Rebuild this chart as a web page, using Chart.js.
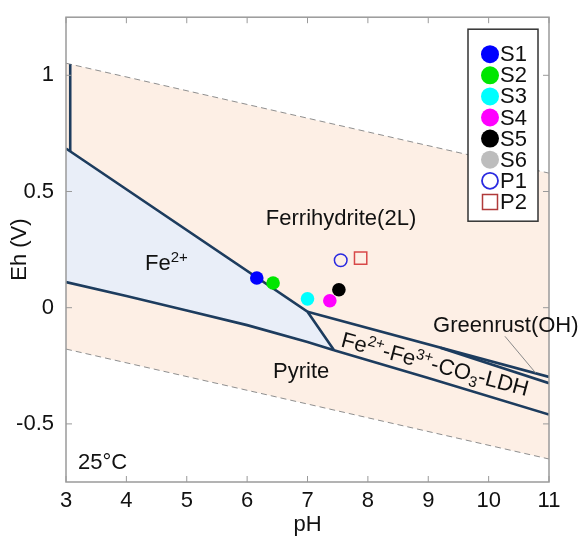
<!DOCTYPE html>
<html>
<head>
<meta charset="utf-8">
<script src="https://cdn.jsdelivr.net/npm/chart.js@4.4.0/dist/chart.umd.min.js"></script>
<style>
    html, body { margin: 0; padding: 0; background: #fff; }
    #wrap { width: 579px; height: 540px; }
</style>
</head>
<body>
<div id="wrap"><canvas id="ehphChart"></canvas></div>
<script>
// axis ticks
var xTicks = [3, 4, 5, 6, 7, 8, 9, 10, 11];
var yTicks = [-0.5, 0, 0.5, 1];

// water stability limits (dashed)
var waterPH = [3, 11];
var waterUpperEh = [1.052, 0.579];
var waterLowerEh = [-0.178, -0.651];

// phase boundaries
var verticalPH = [3.07, 3.07];
var verticalEh = [1.048, 0.673];
var fe2UpperPH = [3, 7.0, 7.44];          // Fe2+ / Ferrihydrite, then Fe2+ / LDH
var fe2UpperEh = [0.685, -0.017, -0.183];
var fe2PyritePH = [3, 4, 5, 6, 7, 7.44];
var fe2PyriteEh = [0.11, 0.05, -0.012, -0.075, -0.148, -0.183];
var ldhFerriPH = [7.0, 11];
var ldhFerriEh = [-0.017, -0.298];
var greenrustPH = [9.2, 11];
var greenrustEh = [-0.172, -0.325];
var ldhPyritePH = [7.44, 9, 11];
var ldhPyriteEh = [-0.183, -0.302, -0.46];
var pointerPH = [10.27, 10.78];
var pointerEh = [-0.123, -0.281];

// samples
var sampleNames = ["S1", "S2", "S3", "S4", "S5", "S6", "P1", "P2"];
var samplePH = [6.16, 6.43, 7.0, 7.37, 7.52, null, 7.55, 7.88];
var sampleEh = [0.128, 0.106, 0.038, 0.030, 0.077, null, 0.204, 0.213];
var sampleColors = ["#0000ff", "#00e600", "#00ffff", "#ff00ff", "#000000", "#bdbdbd", "#2a2ae0", "#d84848"];

var NAVY = "#1d3c5e";
var FONT = "'Liberation Sans', Arial, sans-serif";

function pts(xs, ys) {
    var out = [];
    for (var i = 0; i < xs.length; i++) {
        if (xs[i] !== null) out.push({ x: xs[i], y: ys[i] });
    }
    return out;
}

function boundary(xs, ys, extra) {
    var ds = {
        data: pts(xs, ys),
        showLine: true,
        borderColor: NAVY,
        borderWidth: 2.6,
        pointRadius: 0,
        fill: false,
        tension: 0
    };
    for (var k in extra) ds[k] = extra[k];
    return ds;
}

var datasets = [];

// markers first so they sit on top
for (var i = 0; i < sampleNames.length; i++) {
    var open = sampleNames[i] === "P1" || sampleNames[i] === "P2";
    datasets.push({
        label: sampleNames[i],
        data: pts([samplePH[i]], [sampleEh[i]]),
        pointStyle: sampleNames[i] === "P2" ? "rect" : "circle",
        pointRadius: sampleNames[i] === "P2" ? 8.7 : (open ? 6.3 : 6.8),
        pointBackgroundColor: open ? "rgba(0,0,0,0)" : sampleColors[i],
        pointBorderColor: sampleColors[i],
        pointBorderWidth: open ? 1.5 : 0,
        showLine: false
    });
}

datasets.push(boundary(pointerPH, pointerEh, { borderColor: "#8a8a8a", borderWidth: 1 }));
datasets.push(boundary(verticalPH, verticalEh));
datasets.push(boundary(ldhFerriPH, ldhFerriEh));
datasets.push(boundary(greenrustPH, greenrustEh));
datasets.push(boundary(ldhPyritePH, ldhPyriteEh));
datasets.push(boundary(fe2UpperPH, fe2UpperEh, { fill: "+1", backgroundColor: "#e9eef8" }));
datasets.push(boundary(fe2PyritePH, fe2PyriteEh));
datasets.push(boundary(waterPH, waterUpperEh, {
    borderColor: "#8f8f8f", borderWidth: 1, borderDash: [6, 4],
    fill: "+1", backgroundColor: "#fdefe5"
}));
datasets.push(boundary(waterPH, waterLowerEh, { borderColor: "#8f8f8f", borderWidth: 1, borderDash: [6, 4] }));

function drawRuns(ctx, runs, x, y) {
    var cx = x;
    runs.forEach(function (r) {
        ctx.font = r[1] + "px " + FONT;
        ctx.fillText(r[0], cx, y + (r[2] || 0));
        cx += ctx.measureText(r[0]).width;
    });
}

var decorations = {
    id: "decorations",
    afterDraw: function (chart) {
        var ctx = chart.ctx, a = chart.chartArea;
        var xs = chart.scales.x, ys = chart.scales.y;
        ctx.save();

        // frame with inward ticks
        ctx.strokeStyle = "#9a9a9a";
        ctx.lineWidth = 1.5;
        ctx.strokeRect(a.left, a.top, a.right - a.left, a.bottom - a.top);
        ctx.lineWidth = 1;
        ctx.beginPath();
        xTicks.forEach(function (v) {
            var px = xs.getPixelForValue(v);
            ctx.moveTo(px, a.bottom); ctx.lineTo(px, a.bottom - 6);
            ctx.moveTo(px, a.top); ctx.lineTo(px, a.top + 6);
        });
        yTicks.forEach(function (v) {
            var py = ys.getPixelForValue(v);
            ctx.moveTo(a.left, py); ctx.lineTo(a.left + 6, py);
            ctx.moveTo(a.right, py); ctx.lineTo(a.right - 6, py);
        });
        ctx.stroke();

        // region labels
        ctx.fillStyle = "#111";
        ctx.textBaseline = "alphabetic";
        ctx.textAlign = "left";
        function at(x, y) { return [xs.getPixelForValue(x), ys.getPixelForValue(y)]; }
        var p;
        p = at(6.31, 0.357); drawRuns(ctx, [["Ferrihydrite(2L)", 22]], p[0], p[1]);
        p = at(4.31, 0.162); drawRuns(ctx, [["Fe", 22], ["2+", 15, -8]], p[0], p[1]);
        p = at(6.43, -0.302); drawRuns(ctx, [["Pyrite", 22]], p[0], p[1]);
        p = at(9.08, -0.106); drawRuns(ctx, [["Greenrust(OH)", 22]], p[0], p[1]);
        p = at(3.2, -0.694); drawRuns(ctx, [["25°C", 22]], p[0], p[1]);

        p = at(7.54, -0.166);
        ctx.save();
        ctx.translate(p[0], p[1]);
        ctx.rotate(15 * Math.PI / 180);
        drawRuns(ctx, [["Fe", 22], ["2+", 15, -8], ["-Fe", 22], ["3+", 15, -8],
            ["-CO", 22], ["3", 15, 5], ["-LDH", 22]], 0, 0);
        ctx.restore();

        // legend box
        var bx = a.right - 81, by = a.top + 12, bw = 70, bh = 192;
        ctx.fillStyle = "#fff";
        ctx.fillRect(bx, by, bw, bh);
        ctx.strokeStyle = "#333";
        ctx.lineWidth = 1.5;
        ctx.strokeRect(bx, by, bw, bh);
        ctx.font = "22px " + FONT;
        ctx.textBaseline = "middle";
        for (var i = 0; i < sampleNames.length; i++) {
            var cy = by + 25 + i * 21.1, cx = bx + 22;
            var name = sampleNames[i];
            ctx.beginPath();
            if (name === "P2") {
                ctx.rect(cx - 7.5, cy - 7.5, 15, 15);
                ctx.strokeStyle = "#b03a3a"; ctx.lineWidth = 1.5; ctx.stroke();
            } else if (name === "P1") {
                ctx.arc(cx, cy, 8, 0, Math.PI * 2);
                ctx.strokeStyle = sampleColors[i]; ctx.lineWidth = 1.8; ctx.stroke();
            } else {
                ctx.arc(cx, cy, 9, 0, Math.PI * 2);
                ctx.fillStyle = sampleColors[i]; ctx.fill();
            }
            ctx.fillStyle = "#111";
            ctx.fillText(name, cx + 10, cy + 1);
        }
        ctx.restore();
    }
};

Chart.defaults.font.family = FONT;
Chart.defaults.font.size = 22;
Chart.defaults.color = "#111";

new Chart(document.getElementById("ehphChart").getContext("2d"), {
    type: "scatter",
    data: { datasets: datasets },
    options: {
        responsive: true,
        maintainAspectRatio: false,
        animation: false,
        events: [],
        layout: { padding: { left: 0, right: 30, top: 13, bottom: 0 } },
        plugins: {
            legend: { display: false },
            tooltip: { enabled: false },
            filler: { drawTime: "beforeDatasetsDraw" }
        },
        scales: {
            x: {
                type: "linear", min: 3, max: 11,
                grid: { display: false },
                border: { display: false },
                afterBuildTicks: function (s) { s.ticks = xTicks.map(function (v) { return { value: v }; }); },
                afterFit: function (s) { s.height = 58; },
                ticks: { padding: -2, maxRotation: 0, callback: function (v) { return String(v); } },
                title: { display: true, text: "pH", padding: { top: 0, bottom: 2 } }
            },
            y: {
                type: "linear", min: -0.75, max: 1.25,
                grid: { display: false },
                border: { display: false },
                afterBuildTicks: function (s) { s.ticks = yTicks.map(function (v) { return { value: v }; }); },
                afterFit: function (s) { s.width = 66; },
                ticks: { padding: 4, callback: function (v) { return String(v); } },
                title: { display: true, text: "Eh (V)", padding: { top: 7, bottom: 0 } }
            }
        }
    },
    plugins: [decorations]
});
</script>
</body>
</html>
